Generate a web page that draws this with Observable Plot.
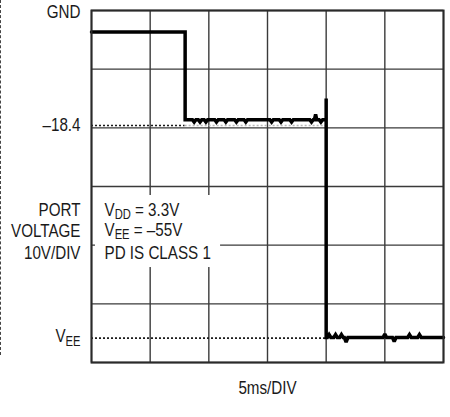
<!DOCTYPE html>
<html>
<head>
<meta charset="utf-8">
<script src="https://cdn.jsdelivr.net/npm/d3@7"></script>
<script src="https://cdn.jsdelivr.net/npm/@observablehq/plot@0.6"></script>
<style>
  body { margin: 0; background: #fff; }
  #wrap { position: relative; width: 450px; height: 417px; }
  #edge { position: absolute; left: 0; top: 0; height: 355px; border-left: 1.5px dashed #444; }
</style>
</head>
<body>
<div id="wrap"><div id="edge"></div></div>
<script>
// Time axis (ms) and voltage axis (V)
const timeDomain = [0, 30];          // 6 divisions x 5ms
const voltDomain = [-59.2, 1.4];     // 6 divisions x ~10V, GND at top
const divisions = 6;

// Reference levels
const classLevel = -18.4;
const veeLevel = -55;
const tClassStart = 7.98;
const tPowerOn = 20.0;

// Trace samples (time in ms, port voltage in V)
const traceTime = [
  0, 7.98, 7.98,
  8.6, 8.75, 8.9,   9.1, 9.25, 9.4,   9.6, 9.75, 9.9,   10.5, 10.65, 10.8,
  11.3, 11.45, 11.6,   12.2, 12.35, 12.5,   13.0, 13.15, 13.3,   15.2, 15.35, 15.5,
  16.0, 16.15, 16.3,   16.9, 17.05, 17.2,   18.6, 18.75, 18.9,   19.0, 19.1, 19.2,
  19.4, 19.55, 19.7,
  20.0, 20.0, 20.0,
  20.1, 20.25, 20.4,   20.65, 20.8, 20.95,   21.15, 21.3, 21.45,   21.55, 21.7, 21.85,
  24.85, 25.0, 25.15,   25.65, 25.8, 25.95,   26.95, 27.1, 27.25,   27.8, 27.95, 28.1,
  30
];
const traceVolts = [
  -2.3, -2.3, -17.4,
  -17.4, -17.8, -17.4,   -17.4, -17.8, -17.4,   -17.4, -17.8, -17.4,   -17.4, -17.8, -17.4,
  -17.4, -17.8, -17.4,   -17.4, -17.8, -17.4,   -17.4, -17.8, -17.4,   -17.4, -17.8, -17.4,
  -17.4, -17.8, -17.4,   -17.4, -17.8, -17.4,   -17.4, -17.8, -17.4,   -17.4, -16.5, -17.4,
  -17.4, -17.8, -17.4,
  -17.4, -13.75, -54.9,
  -54.9, -54.4, -54.9,   -54.9, -54.4, -54.9,   -54.9, -54.4, -54.9,   -54.9, -55.7, -54.9,
  -54.9, -54.3, -54.9,   -54.9, -55.6, -54.9,   -54.9, -54.4, -54.9,   -54.9, -54.4, -54.9,
  -54.9
];

// Labels
const yLabelGnd = "GND";
const yLabelClass = "–18.4";
const yLabelVee = "V_EE";
const yTitleLines = ["PORT", "VOLTAGE", "10V/DIV"];
const noteLines = ["V_DD = 3.3V", "V_EE = –55V", "PD IS CLASS 1"];
const xTitle = "5ms/DIV";

const trace = traceTime.map((t, i) => ({t, v: traceVolts[i]}));
const xGrid = d3.range(0, divisions + 1).map(i => timeDomain[0] + i * (timeDomain[1] - timeDomain[0]) / divisions);
const yGrid = d3.range(0, divisions + 1).map(i => voltDomain[1] - i * (voltDomain[1] - voltDomain[0]) / divisions);

const ink = "#1a1a1a";
const gridColor = "#3a3a3a";

const chart = Plot.plot({
  width: 450,
  height: 417,
  marginLeft: 91,
  marginRight: 7,
  marginTop: 10,
  marginBottom: 55,
  x: {domain: timeDomain, axis: null},
  y: {domain: voltDomain, axis: null},
  style: {
    fontFamily: "'Liberation Sans', Arial, sans-serif",
    fontSize: "19px",
    color: ink,
    background: "white",
    overflow: "visible"
  },
  marks: [
    Plot.ruleX(xGrid, {stroke: gridColor, strokeWidth: 1.4, strokeOpacity: 1}),
    Plot.ruleY(yGrid, {stroke: gridColor, strokeWidth: 1.4, strokeOpacity: 1}),
    // white note box
    Plot.rect([0], {x1: 0.34, x2: 11.0, y1: -30.45, y2: -42.85, fill: "white"}),
    // dotted reference levels
    Plot.ruleY([classLevel], {x1: timeDomain[0], x2: tClassStart, stroke: ink, strokeWidth: 1.6, strokeDasharray: "2,2"}),
    Plot.ruleY([classLevel], {x1: tClassStart, x2: tPowerOn, stroke: "#b8b8b8", strokeWidth: 1.4, strokeDasharray: "2,2"}),
    Plot.ruleY([veeLevel], {x1: timeDomain[0], x2: tPowerOn, stroke: ink, strokeWidth: 1.6, strokeDasharray: "2,2"}),
    // trace
    Plot.line(trace, {x: "t", y: "v", stroke: "#000", strokeWidth: 3.5, strokeLinejoin: "miter", strokeMiterlimit: 2}),
    Plot.frame({stroke: "#2a2a2a", strokeWidth: 2}),
    // y labels
    Plot.text([yLabelGnd], {text: d => d, y: voltDomain[1], frameAnchor: "left", textAnchor: "end", dx: -11, dy: 1, fill: ink}),
    Plot.text([yLabelClass], {text: d => d, y: classLevel, frameAnchor: "left", textAnchor: "end", dx: -11, dy: -1, fill: ink}),
    Plot.text([yLabelVee], {text: d => d, y: veeLevel, frameAnchor: "left", textAnchor: "end", dx: -11, dy: -2, fill: ink}),
    Plot.text([yTitleLines[0]], {text: d => d, frameAnchor: "left", textAnchor: "end", dx: -11, dy: 23.5, fill: ink}),
    Plot.text([yTitleLines[1]], {text: d => d, frameAnchor: "left", textAnchor: "end", dx: -11, dy: 44.5, fill: ink}),
    Plot.text([yTitleLines[2]], {text: d => d, frameAnchor: "left", textAnchor: "end", dx: -11, dy: 66, fill: ink}),
    // note lines
    Plot.text([noteLines[0]], {text: d => d, frameAnchor: "left", textAnchor: "start", dx: 13, dy: 23, fill: ink}),
    Plot.text([noteLines[1]], {text: d => d, frameAnchor: "left", textAnchor: "start", dx: 13, dy: 43, fill: ink}),
    Plot.text([noteLines[2]], {text: d => d, frameAnchor: "left", textAnchor: "start", dx: 13, dy: 66, fill: ink}),
    // x title
    Plot.text([xTitle], {text: d => d, frameAnchor: "bottom", dy: 31, fill: ink})
  ]
});

// turn "_XX" into subscripts
const NS = "http://www.w3.org/2000/svg";
chart.querySelectorAll("text, tspan").forEach(el => {
  for (const node of [...el.childNodes]) {
    if (node.nodeType !== 3) continue;
    const m = node.nodeValue.match(/^(.*?)_([A-Z]+)(.*)$/);
    if (!m) continue;
    const frag = document.createDocumentFragment();
    frag.appendChild(document.createTextNode(m[1]));
    const sub = document.createElementNS(NS, "tspan");
    sub.setAttribute("font-size", "14");
    sub.setAttribute("dy", "3.5");
    sub.textContent = m[2];
    frag.appendChild(sub);
    if (m[3]) {
      const rest = document.createElementNS(NS, "tspan");
      rest.setAttribute("dy", "-3.5");
      rest.textContent = m[3];
      frag.appendChild(rest);
    }
    el.replaceChild(frag, node);
  }
});

// condensed lettering: squeeze each text horizontally about its anchor
chart.querySelectorAll("text").forEach(el => {
  const x = +el.getAttribute("x") || 0, y = +el.getAttribute("y") || 0;
  const t = el.getAttribute("transform") || "";
  el.setAttribute("transform", `${t} translate(${x},${y}) scale(0.8,1) translate(${-x},${-y})`);
});

document.getElementById("wrap").appendChild(chart);
</script>
</body>
</html>
